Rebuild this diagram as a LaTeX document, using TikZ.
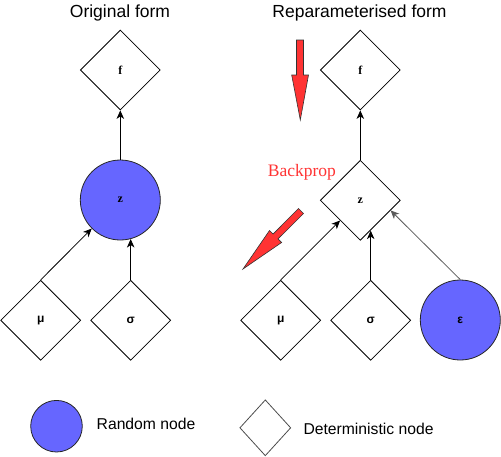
\documentclass[tikz,border=0pt]{standalone}
\usepackage{fontspec}
\setmainfont{Liberation Serif}
\setsansfont{Liberation Sans}
\usetikzlibrary{shapes.geometric,arrows.meta,calc}
\definecolor{rndblue}{HTML}{6666FF}
\definecolor{bpred}{HTML}{FF3333}
\begin{document}
\begin{tikzpicture}[x=1pt,y=-1pt,
  det/.style={diamond, draw=black, line width=0.8pt, minimum width=80pt, minimum height=80pt, inner sep=0pt},
  rnd/.style={circle, draw=black!85, line width=0.8pt, fill=rndblue, minimum size=80pt, inner sep=0pt},
  labser/.style={font=\fontsize{12}{14}\selectfont\bfseries},
  labsans/.style={font=\sffamily\fontsize{12}{14}\selectfont\bfseries},
  conn/.style={line width=0.8pt, -{Stealth[length=8.5pt,width=7.5pt,inset=2.5pt]}},
  ttl/.style={font=\sffamily\fontsize{17.5}{20}\selectfont, inner sep=0pt},
  lgd/.style={font=\sffamily\fontsize{15.7}{18}\selectfont, inner sep=0pt, anchor=base west},
  redarrow/.style={fill=bpred, draw=black!80, line width=0.6pt, line join=miter}]
\useasboundingbox (0,0) rectangle (501,456);

% titles
\node[ttl, anchor=base] (t1) at (120,17.3) {Original form};
\node[ttl, anchor=base] (t2) at (359.5,17.3) {Reparameterised form};

% original form
\node[det] (f1) at (120.3,70) {};
\node[labser] at (f1) {f};
\node[rnd] (z1) at (120.3,200) {};
\node[labser] at (z1) {z};
\node[det] (mu1) at (40.7,320.3) {};
\node[labsans] at (mu1) {μ};
\node[det] (s1) at (130.7,320.3) {};
\node[labsans] at (s1) {σ};

\draw[conn] (z1.north) -- (f1.south);
\draw[conn] (mu1.north) -- (z1.south west);
\draw[conn] (s1.north) -- (s1.north |- z1.-75.5);

% reparameterised form
\node[det] (f2) at (360.3,70) {};
\node[labser] at (f2) {f};
\node[det] (z2) at (360.3,200.3) {};
\node[labser] at (z2) {z};
\node[det] (mu2) at (280.7,320.3) {};
\node[labsans] at (mu2) {μ};
\node[det] (s2) at (370.7,320.3) {};
\node[labsans] at (s2) {σ};
\node[rnd] (e2) at (460.3,320) {};
\node[labsans] at (e2) {ε};

\coordinate (zs) at ($(z2.south)!0.25!(z2.east)$);
\coordinate (ze) at ($(z2.south)!0.75!(z2.east)$);
\draw[conn] (z2.north) -- (f2.south);
\draw[conn] (mu2.north) -- (z2.south west);
\draw[conn] (s2.north) -- (s2.north |- zs);
\draw[conn, draw=black!65] (e2.north) -- (ze);

% backprop
\node[anchor=base west, inner sep=0pt, text=bpred, font=\fontsize{17.5}{20}\selectfont] (bp) at (267.7,176.5) {Backprop};
\draw[redarrow] (296.5,40) -- (303.5,40) -- (303.5,75) -- (308.5,75) -- (300.3,120) -- (291.7,75) -- (296.5,75) -- cycle;
\draw[redarrow] (298.5,208.5) -- (303.5,213.5) -- (278.0,238.9) -- (281.6,242.5) -- (243,269) -- (269.5,230.5) -- (273.1,234.0) -- cycle;

% legend
\node[rnd, minimum size=51.6pt] (lr) at (56.5,426.2) {};
\node[lgd] (lrt) at (96.5,429.5) {Random node};
\node[det, minimum width=51pt, minimum height=56pt, draw=black!70] (ld) at (265.3,427.8) {};
\node[lgd] (ldt) at (303.3,434.3) {Deterministic node};
\end{tikzpicture}
\end{document}
